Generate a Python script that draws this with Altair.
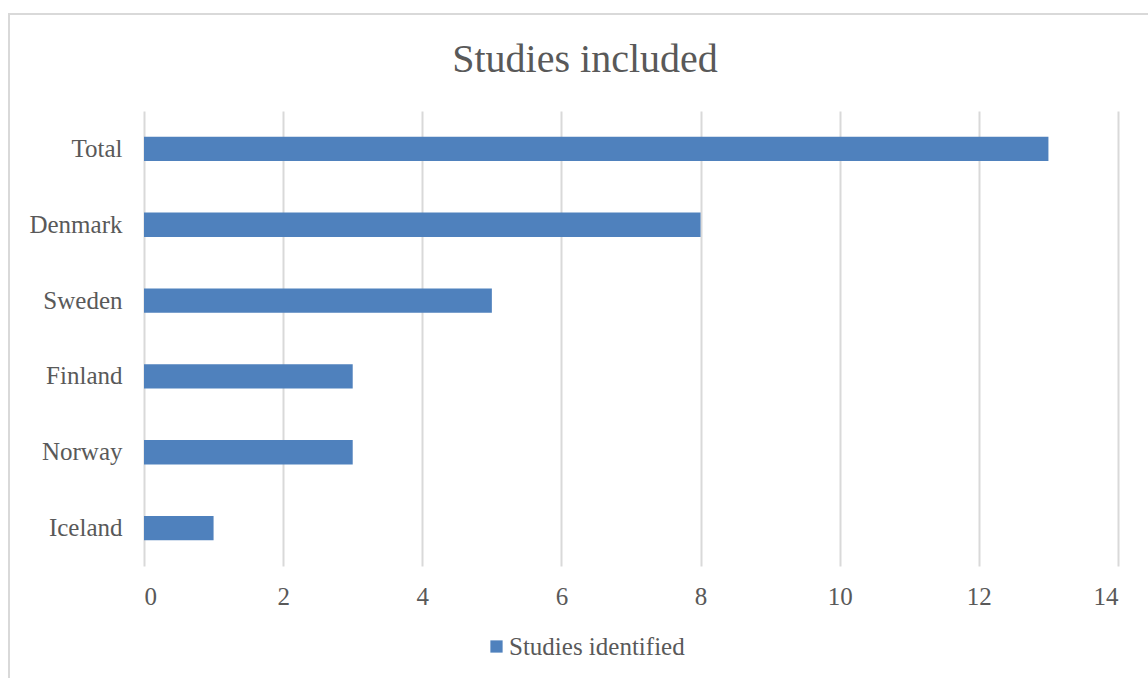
import altair as alt
import pandas as pd

countries = ["Total", "Denmark", "Sweden", "Finland", "Norway", "Iceland"]
studies = [13, 8, 5, 3, 3, 1]
series_name = "Studies identified"

df = pd.DataFrame({"country": countries, "studies": studies, "series": [series_name] * len(countries)})

FONT = "Liberation Serif"
GREY = "#595959"

frame = alt.Chart(pd.DataFrame({"a": [0]})).mark_rect(
    filled=False, stroke="#D9D9D9", strokeWidth=2
).encode(
    x=alt.value(-135), x2=alt.value(1148 - 144 + 20),
    y=alt.value(-97), y2=alt.value(678 - 111 + 20)
)

bars = alt.Chart(df).mark_bar(color="#4F81BD").encode(
    x=alt.X("studies:Q", scale=alt.Scale(domain=[0, 14], nice=False),
            axis=alt.Axis(values=list(range(0, 15, 2)), title=None, domain=False, ticks=False,
                          labelPadding=18, grid=True, gridColor="#D9D9D9", gridWidth=2,
                          labelFont=FONT, labelFontSize=25, labelColor=GREY)),
    y=alt.Y("country:N", sort=countries,
            scale=alt.Scale(paddingInner=0.68, paddingOuter=0.34),
            axis=alt.Axis(title=None, domain=False, ticks=False, grid=False, labelPadding=22,
                          labelFont=FONT, labelFontSize=25, labelColor=GREY)),
    color=alt.Color("series:N", scale=alt.Scale(range=["#4F81BD"]),
                    legend=alt.Legend(title=None, orient="none", legendX=340, legendY=523,
                                      symbolType="square", symbolSize=150, symbolStrokeWidth=0,
                                      labelFont=FONT, labelFontSize=25, labelColor=GREY,
                                      labelOffset=0, labelLimit=400))
)

chart = alt.layer(frame, bars).properties(
    width=974, height=455,
    background="white",
    title=alt.TitleParams("Studies included", font=FONT, fontSize=40, color=GREY,
                          fontWeight="normal", anchor="middle", dx=-46, offset=-67),
    padding={"left": 144, "top": 111, "right": 30, "bottom": 112},
    autosize=alt.AutoSizeParams(type="none")
).configure_view(stroke="transparent", strokeWidth=0)

chart.save("out.html", embed_options={"renderer": "svg", "actions": False})
